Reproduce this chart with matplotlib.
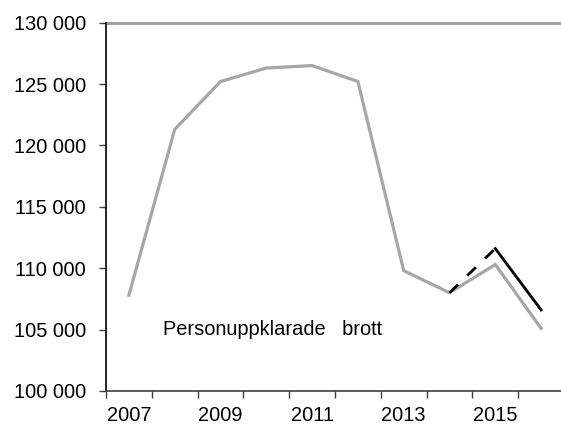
import matplotlib
matplotlib.use("Agg")
import matplotlib.pyplot as plt
import numpy as np

years = [2007, 2008, 2009, 2010, 2011, 2012, 2013, 2014, 2015, 2016]
gray_values = [107800, 121300, 125200, 126300, 126500, 125200, 109800, 108000, 110300, 105100]
black_values = [None, None, None, None, None, None, None, 108000, 111600, 106600]
y_ticks = [100000, 105000, 110000, 115000, 120000, 125000, 130000]
label_text = "Personuppklarade   brott"

plt.rcParams['font.family'] = ['Liberation Sans', 'DejaVu Sans']

fig = plt.figure(figsize=(5.61, 4.24), dpi=100)
L, R, B, T = 106/561, 564/561, 1-391/424, 1-22.6/424
ax = fig.add_axes([L, B, R-L, T-B])

x = np.arange(len(years))
ax.plot(x, gray_values, color='#A6A6A6', lw=2.3, solid_joinstyle='miter', zorder=3)

bx = [i for i, v in enumerate(black_values) if v is not None]
bv = [v for v in black_values if v is not None]
ax.plot(bx[:2], bv[:2], color='black', lw=2.0, dashes=(4.3, 4.6), zorder=4)
ax.plot(bx[1:], bv[1:], color='black', lw=2.0, solid_joinstyle='miter', zorder=4)

ax.set_ylim(100000, 130000)
ax.set_xlim(-0.5, len(years) - 0.5)
ax.set_yticks(y_ticks)
ax.set_yticklabels([f"{v:,}".replace(",", " ") for v in y_ticks])
ax.axhline(130000, color='#A0A0A0', lw=2.2, zorder=2, clip_on=False)

ax.set_xticks(np.arange(len(years) + 1) - 0.5)
ax.set_xticklabels([])
ax.set_xticks(x[::2], minor=True)
ax.set_xticklabels([str(y) for y in years[::2]], minor=True)
ax.tick_params(axis='x', which='minor', length=0, pad=11, labelsize=14.4)
ax.tick_params(axis='x', which='major', length=5, width=1, direction='out', color='#404040')
ax.tick_params(axis='y', length=5, width=1, direction='out', labelsize=14.4, pad=9.4, color='#404040')

for s in ['top', 'right']:
    ax.spines[s].set_visible(False)
ax.spines['left'].set_color('black')
ax.spines['left'].set_linewidth(1.2)
ax.spines['bottom'].set_color('#404040')
ax.spines['bottom'].set_linewidth(1.2)

ax.text(0.74, 105000, label_text, fontsize=14.4, va='center', ha='left')

fig.savefig("out.png", dpi=100)
